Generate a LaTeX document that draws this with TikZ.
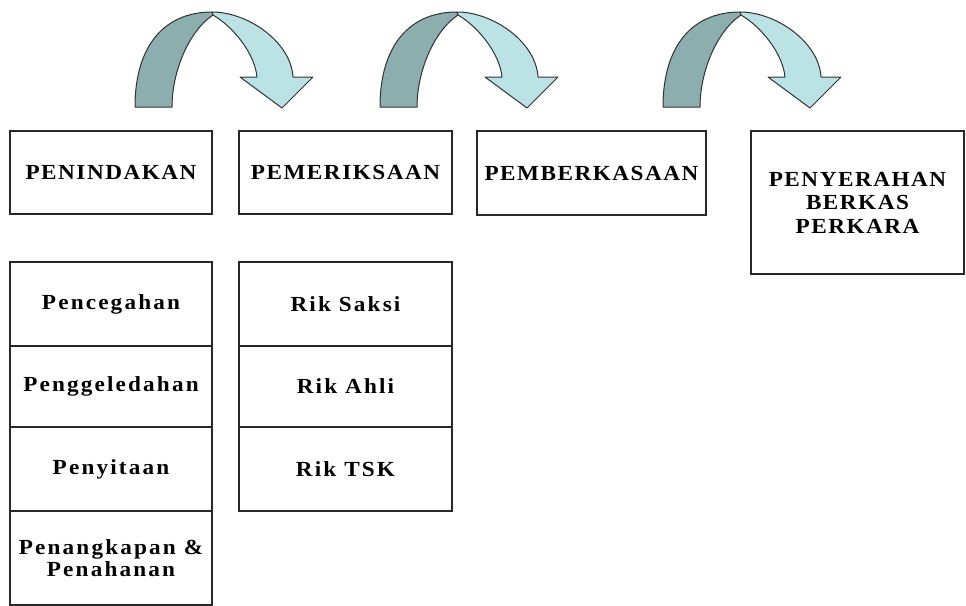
\documentclass[tikz,border=0pt]{standalone}
\usepackage{fontspec}
\newfontfamily\capsfont[FakeStretch=1.08,LetterSpace=7]{Liberation Serif}
\newfontfamily\lowfont[FakeStretch=1.08,LetterSpace=10]{Liberation Serif}
\definecolor{arrdark}{RGB}{141,174,174}
\definecolor{arrlight}{RGB}{187,226,228}
\definecolor{boxline}{RGB}{40,40,40}
\begin{document}
\begin{tikzpicture}[x=1pt,y=-1pt,
  box/.style={draw=boxline,line width=1.2pt,fill=white,inner sep=0pt,align=center,font=\capsfont\bfseries\fontsize{21.5}{23.5}\selectfont},
  sub/.style={box,font=\lowfont\bfseries\fontsize{21.5}{22}\selectfont},
  arrpart/.style={draw=black!80,line width=1pt,line join=round}]
\useasboundingbox (0,0) rectangle (966,605);
\fill[white] (0,0) rectangle (966,605);
% curved arrows
\foreach \dx/\nm in {0/a,245/b,528/c}{
\begin{scope}[shift={(\dx,0)}]
\filldraw[arrpart,fill=arrdark] (135,107) -- (172,107) .. controls (172,70) and (190,30) .. (213,15)
  -- (212,12) .. controls (165,12) and (135,45) .. (135,107) -- cycle;
\filldraw[arrpart,fill=arrlight] (212,12) .. controls (248,12) and (291,42) .. (293,77)
  -- (313,77) -- (282,108) -- (240,77) -- (257,77) .. controls (255,55) and (235,28) .. (213,15) -- cycle;
\end{scope}}
% top boxes
\node[box,minimum width=202pt,minimum height=83pt] (pen) at (111,172.5) {PENINDAKAN};
\node[box,minimum width=213pt,minimum height=83pt] (per) at (345.5,172.5) {PEMERIKSAAN};
\node[box,minimum width=229pt,minimum height=84pt] (pbk) at (591.5,173) {PEMBERKASAAN};
\node[box,minimum width=213pt,minimum height=143pt] (pny) at (857.5,202.5) {PENYERAHAN\\BERKAS\\PERKARA};
% left column
\node[sub,minimum width=202pt,minimum height=84pt] (s1) at (111,304) {Pencegahan};
\node[sub,minimum width=202pt,minimum height=81pt] (s2) at (111,386.5) {Penggeledahan};
\node[sub,minimum width=202pt,minimum height=84pt] (s3) at (111,469) {Penyitaan};
\node[sub,minimum width=202pt,minimum height=94pt] (s4) at (111,558) {Penangkapan \&\\Penahanan};
% right column
\node[sub,minimum width=213pt,minimum height=84pt] (r1) at (345.5,304) {Rik Saksi};
\node[sub,minimum width=213pt,minimum height=81pt] (r2) at (345.5,386.5) {Rik Ahli};
\node[sub,minimum width=213pt,minimum height=84pt] (r3) at (345.5,469) {Rik TSK};
\end{tikzpicture}
\end{document}
